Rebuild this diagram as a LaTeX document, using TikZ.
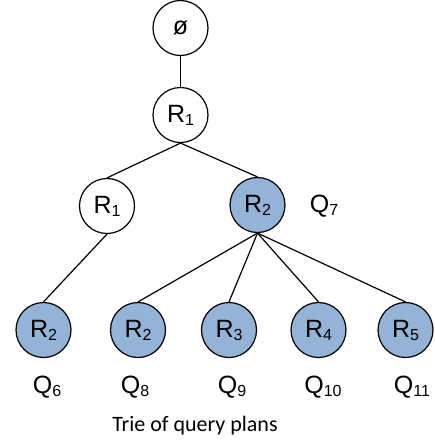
\documentclass[tikz,border=0pt]{standalone}
\usepackage{fontspec}
\setmainfont{Liberation Sans}
\newfontfamily\captionfont{Carlito}
\definecolor{planblue}{RGB}{149,179,215}
% lowered index digit after a relation letter
\newcommand{\idx}[1]{\raisebox{-0.12em}{\fontsize{16}{16}\selectfont #1}}
\tikzset{
  trienode/.style={circle, draw=black, line width=1.2pt, minimum size=55pt, inner sep=0pt,
    font=\fontsize{25}{29}\selectfont},
  leaf/.style={trienode, fill=planblue},
  inner/.style={trienode, fill=white},
  qlabel/.style={font=\fontsize{25}{29}\selectfont, inner sep=0pt},
  edge/.style={draw=black, line width=1.2pt}
}
\begin{document}
\begin{tikzpicture}[x=1pt, y=-1pt]
  \useasboundingbox (0,0) rectangle (435,445);
  % tree nodes
  \node[inner] (root) at (180.5,28) {ø};
  \node[inner] (r1)   at (180.5,115) {R\idx{1}};
  \node[inner] (r1b)  at (107,206) {R\idx{1}};
  \node[leaf]  (r2)   at (257.5,205) {R\idx{2}};
  \node[leaf]  (a)    at (43.5,330) {R\idx{2}};
  \node[leaf]  (b)    at (138,330) {R\idx{2}};
  \node[leaf]  (c)    at (229,330) {R\idx{3}};
  \node[leaf]  (d)    at (318.5,330) {R\idx{4}};
  \node[leaf]  (e)    at (405.5,330) {R\idx{5}};
  % connectors
  \draw[edge] (root.south) -- (r1.north);
  \draw[edge] (r1.south) -- (r1b.north);
  \draw[edge] (r1.south) -- (r2.north);
  \draw[edge] (r1b.south) -- (a.north);
  \foreach \n in {b,c,d,e} \draw[edge] (r2.south) -- (\n.north);
  % query labels
  \node[qlabel] (q7)  at (324,206) {Q\idx{7}};
  \node[qlabel] (q6)  at (47,387) {Q\idx{6}};
  \node[qlabel] (q8)  at (135,387) {Q\idx{8}};
  \node[qlabel] (q9)  at (232,387) {Q\idx{9}};
  \node[qlabel] (q10) at (323,387) {Q\idx{10}};
  \node[qlabel] (q11) at (412,387) {Q\idx{11}};
  % caption
  \node[font=\captionfont\fontsize{22}{26}\selectfont, inner sep=0pt] (cap) at (195,426) {Trie of query plans};
\end{tikzpicture}
\end{document}
